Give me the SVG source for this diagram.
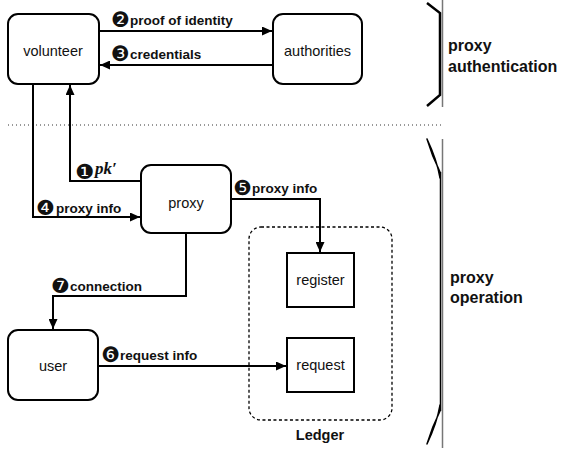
<svg xmlns="http://www.w3.org/2000/svg" width="564" height="452" viewBox="0 0 564 452">
<defs>
<style>
.box{fill:#fff;stroke:#000;stroke-width:2}
.nt{font-family:"Liberation Sans",Arial,sans-serif;font-size:14.5px;fill:#111;text-anchor:middle}
.lb{font-family:"Liberation Sans",Arial,sans-serif;font-size:13.5px;font-weight:bold;fill:#111}
.num{font-family:"DejaVu Sans",sans-serif;font-size:21px;font-weight:normal}
.sec{font-family:"Liberation Sans",Arial,sans-serif;font-size:16px;font-weight:bold;fill:#111}
.con{fill:none;stroke:#000;stroke-width:2}
</style>
<marker id="ah" markerUnits="userSpaceOnUse" markerWidth="10" markerHeight="9" refX="10" refY="4.5" orient="auto">
<path d="M0,0 L10,4.5 L0,9 Z" fill="#000"/>
</marker>
</defs>
<rect width="564" height="452" fill="#fff"/>

<g id="separator">
<line x1="8" y1="125" x2="442" y2="125" stroke="#333" stroke-width="1" stroke-dasharray="1,3"/>
</g>

<g id="brace-auth">
<line x1="442.5" y1="0" x2="442.5" y2="107" stroke="#777" stroke-width="1.5"/>
<path d="M427,3 L440,13 L440,95 L427,106" fill="none" stroke="#000" stroke-width="2.5"/>
</g>
<g id="brace-op">
<line x1="442.5" y1="139" x2="442.5" y2="448" stroke="#777" stroke-width="1.5"/>
<path d="M427,139 Q432,156 440,172 L440,178 Q437,160 427,139 Z M427,444 Q432,427 440,411 L440,405 Q437,423 427,444 Z" fill="#000" stroke="#000" stroke-width="1.5" stroke-linejoin="round"/>
<line x1="440.5" y1="172" x2="440.5" y2="411" stroke="#000" stroke-width="1.5"/>
</g>

<g id="volunteer"><rect class="box" x="8" y="14" width="91" height="70" rx="10"/><text class="nt" x="53" y="56">volunteer</text></g>
<g id="authorities"><rect class="box" x="273" y="14" width="89" height="70" rx="10"/><text class="nt" x="317.5" y="56">authorities</text></g>
<g id="proxy"><rect class="box" x="141" y="165" width="90" height="68" rx="10"/><text class="nt" x="186" y="208">proxy</text></g>
<g id="user"><rect class="box" x="8" y="330" width="90" height="70" rx="10"/><text class="nt" x="53" y="371">user</text></g>
<g id="ledger">
<rect x="249" y="227" width="143" height="193" rx="12" fill="none" stroke="#000" stroke-width="1.3" stroke-dasharray="3,2.5"/>
<text class="sec" x="320" y="440" text-anchor="middle" style="font-size:14.5px">Ledger</text>
</g>
<g id="register"><rect class="box" x="287" y="253" width="67" height="54"/><text class="nt" x="320.5" y="285">register</text></g>
<g id="request"><rect class="box" x="287" y="338" width="67" height="54"/><text class="nt" x="320.5" y="370">request</text></g>

<g id="labels-sections">
<text class="sec" x="448" y="51">proxy</text>
<text class="sec" x="448" y="72">authentication</text>
<text class="sec" x="450" y="283">proxy</text>
<text class="sec" x="450" y="303">operation</text>
</g>

<g id="connectors">
<path class="con" d="M99,31 H272" marker-end="url(#ah)"/>
<path class="con" d="M273,65 H100" marker-end="url(#ah)"/>
<path class="con" d="M33,84 V217 H140" marker-end="url(#ah)"/>
<path class="con" d="M141,181 H70 V85" marker-end="url(#ah)"/>
<path class="con" d="M231,199 H320 V252" marker-end="url(#ah)"/>
<path class="con" d="M186,233 V296 H53 V329" marker-end="url(#ah)"/>
<path class="con" d="M98,366 H286" marker-end="url(#ah)"/>
<text class="lb" x="111" y="27"><tspan class="num">❷</tspan><tspan x="130" dy="-2">proof of identity</tspan></text>
<text class="lb" x="111" y="61"><tspan class="num">❸</tspan><tspan x="130" dy="-2">credentials</tspan></text>
<text class="lb" x="75" y="179"><tspan class="num">❶</tspan><tspan x="95" dy="-5" style="font-family:'Liberation Serif',serif;font-style:italic;font-size:17px">pk′</tspan></text>
<text class="lb" x="36" y="215"><tspan class="num">❹</tspan><tspan x="56" dy="-2">proxy info</tspan></text>
<text class="lb" x="233" y="195"><tspan class="num">❺</tspan><tspan x="252" dy="-2">proxy info</tspan></text>
<text class="lb" x="51" y="293"><tspan class="num">❼</tspan><tspan x="70" dy="-2">connection</tspan></text>
<text class="lb" x="101" y="362"><tspan class="num">❻</tspan><tspan x="120" dy="-2">request info</tspan></text>
</g>
</svg>
